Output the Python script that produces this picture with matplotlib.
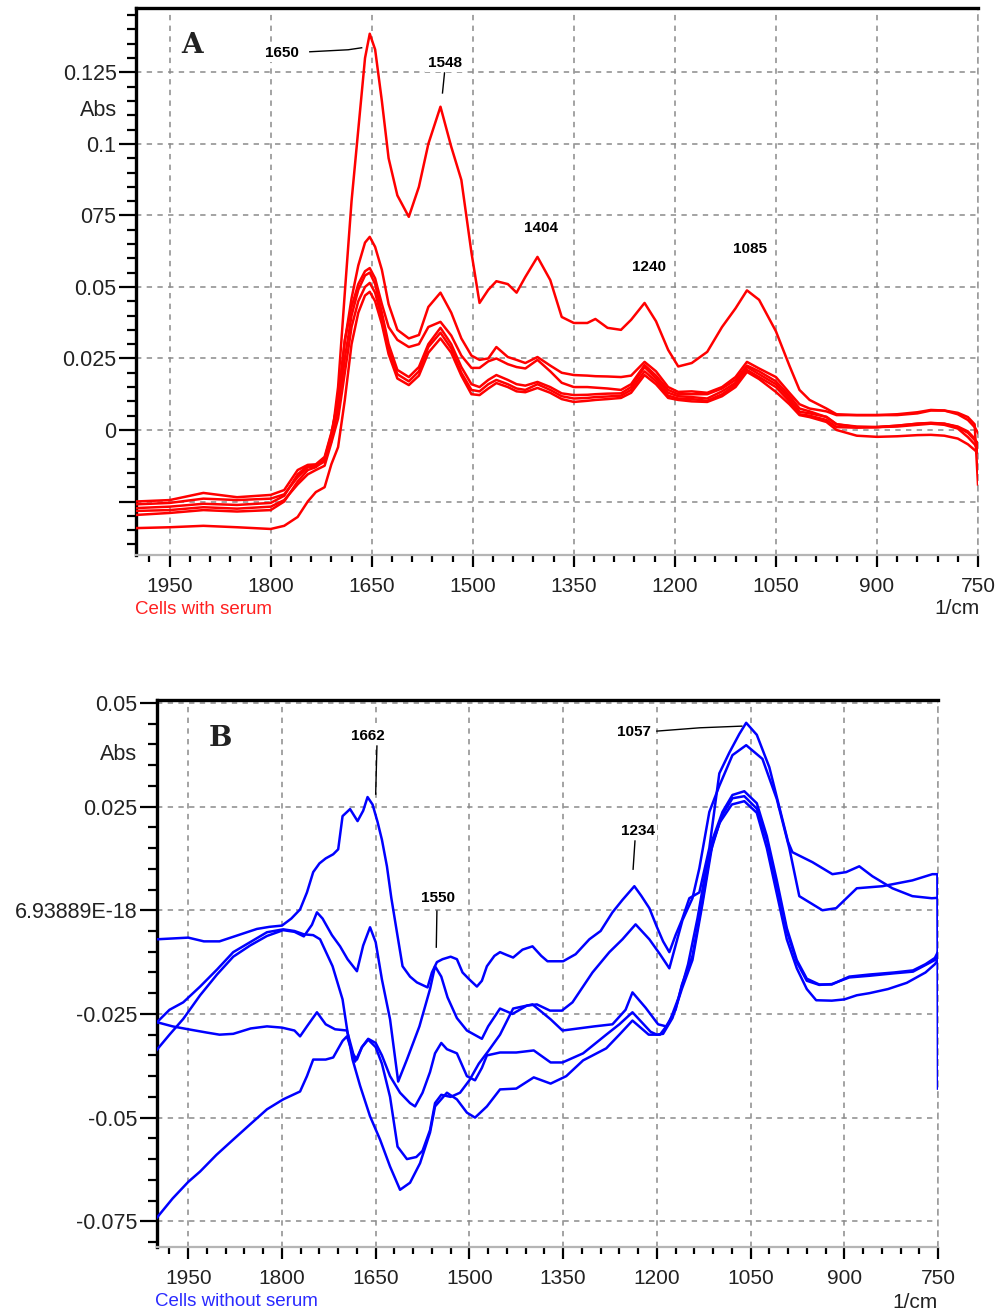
import matplotlib
matplotlib.use('Agg')
import matplotlib.pyplot as plt
from matplotlib.ticker import MultipleLocator, FixedLocator

plt.rcParams['font.family'] = ['Liberation Sans', 'DejaVu Sans']

# ---------------- DATA ----------------
# Panel A (cells with serum) - common wavenumber grid
wnA = [2000, 1950, 1900, 1850, 1800, 1780, 1760, 1745, 1733, 1720, 1710, 1700, 1690, 1680, 1670,
       1660, 1653, 1645, 1635, 1625, 1612, 1595, 1580, 1566, 1548, 1532, 1517, 1502, 1490, 1477,
       1465, 1448, 1435, 1422, 1404, 1385, 1368, 1350, 1330, 1318, 1300, 1280, 1265, 1245, 1228,
       1210, 1195, 1175, 1152, 1130, 1110, 1093, 1075, 1050, 1030, 1015, 1000, 975, 960, 930,
       900, 870, 840, 820, 800, 780, 765, 755, 750]

A1 = [-0.0297, -0.0290, -0.0280, -0.0285, -0.0280, -0.0250, -0.0180, -0.0140, -0.0130, -0.0100,
      -0.0040, 0.0150, 0.0480, 0.0800, 0.1050, 0.1300, 0.1385, 0.1330, 0.1150, 0.0950,
      0.0820, 0.0745, 0.0850, 0.1000, 0.1130, 0.0990, 0.0874, 0.0620, 0.0444, 0.0490,
      0.0520, 0.0510, 0.0480, 0.0535, 0.0605, 0.0524, 0.0395, 0.0374, 0.0374, 0.0388,
      0.0357, 0.0350, 0.0385, 0.0444, 0.0380, 0.0280, 0.0222, 0.0234, 0.0273, 0.0360,
      0.0425, 0.0488, 0.0455, 0.0345, 0.0225, 0.0140, 0.0105, 0.0075, 0.0055, 0.0052,
      0.0052, 0.0055, 0.0062, 0.0070, 0.0068, 0.0055, 0.0035, 0.0010, -0.0010]

A2 = [-0.0273, -0.0268, -0.0258, -0.0262, -0.0255, -0.0230, -0.0155, -0.0125, -0.0125, -0.0100,
      -0.0015, 0.0100, 0.0310, 0.0460, 0.0575, 0.0655, 0.0675, 0.0640, 0.0560, 0.0440,
      0.0350, 0.0320, 0.0332, 0.0430, 0.0480, 0.0410, 0.0320, 0.0260, 0.0245, 0.0250,
      0.0290, 0.0255, 0.0245, 0.0234, 0.0255, 0.0225, 0.0200, 0.0192, 0.0190, 0.0188,
      0.0187, 0.0185, 0.0190, 0.0238, 0.0205, 0.0150, 0.0133, 0.0135, 0.0130, 0.0150,
      0.0185, 0.0238, 0.0215, 0.0185, 0.0130, 0.0090, 0.0075, 0.0065, 0.0052, 0.0052,
      0.0052, 0.0052, 0.0058, 0.0068, 0.0068, 0.0060, 0.0045, 0.0020, -0.0190]

A3 = [-0.0250, -0.0245, -0.0220, -0.0235, -0.0227, -0.0210, -0.0140, -0.0122, -0.0120, -0.0094,
      -0.0010, 0.0105, 0.0315, 0.0430, 0.0510, 0.0555, 0.0566, 0.0530, 0.0440, 0.0360,
      0.0315, 0.0290, 0.0300, 0.0360, 0.0378, 0.0330, 0.0260, 0.0217, 0.0217, 0.0240,
      0.0250, 0.0230, 0.0220, 0.0215, 0.0245, 0.0205, 0.0165, 0.0150, 0.0150, 0.0148,
      0.0145, 0.0140, 0.0160, 0.0227, 0.0190, 0.0140, 0.0125, 0.0125, 0.0125, 0.0145,
      0.0175, 0.0225, 0.0205, 0.0170, 0.0120, 0.0075, 0.0065, 0.0045, 0.0020, 0.0012,
      0.0010, 0.0015, 0.0022, 0.0025, 0.0022, 0.0012, -0.0005, -0.0030, -0.0060]

A4 = [-0.0260, -0.0255, -0.0240, -0.0245, -0.0240, -0.0225, -0.0165, -0.0130, -0.0128, -0.0110,
      -0.0030, 0.0070, 0.0250, 0.0400, 0.0490, 0.0540, 0.0550, 0.0510, 0.0410, 0.0300,
      0.0210, 0.0185, 0.0220, 0.0300, 0.0357, 0.0300, 0.0220, 0.0160, 0.0150, 0.0175,
      0.0192, 0.0175, 0.0160, 0.0155, 0.0168, 0.0150, 0.0128, 0.0122, 0.0123, 0.0125,
      0.0127, 0.0128, 0.0150, 0.0220, 0.0180, 0.0130, 0.0118, 0.0115, 0.0110, 0.0135,
      0.0165, 0.0220, 0.0195, 0.0160, 0.0110, 0.0064, 0.0058, 0.0046, 0.0020, 0.0010,
      0.0010, 0.0015, 0.0022, 0.0024, 0.0022, 0.0010, -0.0010, -0.0035, -0.0045]

A5 = [-0.0283, -0.0280, -0.0270, -0.0275, -0.0268, -0.0245, -0.0190, -0.0155, -0.0140, -0.0125,
      -0.0045, 0.0040, 0.0200, 0.0360, 0.0450, 0.0500, 0.0514, 0.0480, 0.0390, 0.0280,
      0.0195, 0.0170, 0.0205, 0.0290, 0.0340, 0.0285, 0.0200, 0.0140, 0.0135, 0.0160,
      0.0175, 0.0160, 0.0145, 0.0140, 0.0160, 0.0140, 0.0118, 0.0110, 0.0112, 0.0115,
      0.0117, 0.0120, 0.0140, 0.0205, 0.0170, 0.0120, 0.0110, 0.0108, 0.0102, 0.0125,
      0.0158, 0.0210, 0.0185, 0.0150, 0.0100, 0.0055, 0.0050, 0.0035, 0.0010, 0.0008,
      0.0010, 0.0012, 0.0018, 0.0022, 0.0018, 0.0005, -0.0025, -0.0050, -0.0070]

A6 = [-0.0343, -0.0340, -0.0335, -0.0340, -0.0346, -0.0335, -0.0304, -0.0250, -0.0217, -0.0200,
      -0.0120, -0.0060, 0.0105, 0.0300, 0.0410, 0.0470, 0.0483, 0.0450, 0.0370, 0.0265,
      0.0180, 0.0157, 0.0190, 0.0270, 0.0320, 0.0270, 0.0190, 0.0125, 0.0122, 0.0145,
      0.0164, 0.0150, 0.0135, 0.0132, 0.0147, 0.0130, 0.0108, 0.0098, 0.0102, 0.0105,
      0.0108, 0.0112, 0.0130, 0.0192, 0.0160, 0.0112, 0.0105, 0.0100, 0.0098, 0.0118,
      0.0150, 0.0203, 0.0178, 0.0133, 0.0090, 0.0052, 0.0045, 0.0028, 0.0000, -0.0020,
      -0.0024, -0.0022, -0.0018, -0.0017, -0.0020, -0.0030, -0.0050, -0.0070, -0.0080]

seriesA = [A1, A2, A3, A4, A5, A6]

# Panel B (cells without serum) - one wavenumber list per spectrum
B1_wn = [2000, 1975, 1950, 1925, 1900, 1880, 1860, 1840, 1820, 1800, 1785, 1771, 1760, 1750, 1740,
         1730, 1718, 1710, 1703, 1691, 1679, 1670, 1663, 1655, 1647, 1640, 1632, 1625, 1616, 1607,
         1595, 1584, 1567, 1560, 1552, 1543, 1530, 1520, 1511, 1500, 1488, 1480, 1472, 1460, 1451,
         1440, 1430, 1415, 1399, 1385, 1375, 1350, 1330, 1308, 1290, 1271, 1255, 1236, 1225, 1212,
         1200, 1190, 1180, 1170, 1160, 1148, 1132, 1116, 1100, 1084, 1068, 1057, 1040, 1020, 1004,
         990, 983, 951, 919, 897, 876, 855, 823, 791, 760, 750]
B1_abs = [-0.0070, -0.0068, -0.0066, -0.0075, -0.0075, -0.0065, -0.0055, -0.0045, -0.0040, -0.0037,
          -0.0020, 0.0002, 0.0043, 0.0092, 0.0113, 0.0125, 0.0135, 0.0147, 0.0227, 0.0244,
          0.0215, 0.0240, 0.0273, 0.0255, 0.0213, 0.0170, 0.0106, 0.0030, -0.0053, -0.0135,
          -0.0160, -0.0174, -0.0186, -0.0150, -0.0125, -0.0118, -0.0112, -0.0118, -0.0150, -0.0167,
          -0.0184, -0.0170, -0.0135, -0.0110, -0.0101, -0.0108, -0.0114, -0.0095, -0.0087, -0.0110,
          -0.0123, -0.0123, -0.0106, -0.0070, -0.0050, -0.0005, 0.0025, 0.0058, 0.0035, 0.0005,
          -0.0040, -0.0075, -0.0101, -0.0060, -0.0024, 0.0029, 0.0043, 0.0150, 0.0330, 0.0380,
          0.0425, 0.0452, 0.0423, 0.0345, 0.0249, 0.0165, 0.0140, 0.0116, 0.0087, 0.0092,
          0.0106, 0.0082, 0.0053, 0.0034, 0.0029, 0.0030]

B2_wn = [2000, 1980, 1958, 1931, 1904, 1878, 1851, 1824, 1798, 1780, 1765, 1752, 1744, 1735, 1720,
         1707, 1695, 1680, 1670, 1659, 1650, 1640, 1627, 1614, 1600, 1580, 1563, 1555, 1545, 1535,
         1520, 1504, 1480, 1470, 1451, 1431, 1408, 1392, 1371, 1352, 1335, 1303, 1276, 1255, 1234,
         1212, 1195, 1180, 1159, 1143, 1132, 1116, 1100, 1079, 1057, 1031, 1008, 988, 972, 935,
         913, 880, 839, 791, 759, 751, 750]
B2_abs = [-0.0336, -0.0300, -0.0262, -0.0205, -0.0155, -0.0112, -0.0085, -0.0062, -0.0048, -0.0052,
          -0.0063, -0.0035, -0.0005, -0.0020, -0.0060, -0.0087, -0.0118, -0.0147, -0.0085, -0.0041,
          -0.0077, -0.0167, -0.0263, -0.0413, -0.0360, -0.0280, -0.0190, -0.0135, -0.0160, -0.0210,
          -0.0260, -0.0290, -0.0310, -0.0280, -0.0237, -0.0250, -0.0230, -0.0227, -0.0242, -0.0242,
          -0.0222, -0.0150, -0.0101, -0.0070, -0.0034, -0.0070, -0.0106, -0.0140, -0.0024, 0.0029,
          0.0101, 0.0237, 0.0300, 0.0374, 0.0398, 0.0365, 0.0268, 0.0150, 0.0034, 0.0000,
          0.0005, 0.0053, 0.0058, 0.0072, 0.0087, 0.0087, -0.0430]

B3_wn = [2000, 1975, 1950, 1920, 1900, 1878, 1850, 1824, 1800, 1780, 1771, 1760, 1744, 1730, 1715,
         1696, 1687, 1683, 1672, 1662, 1650, 1640, 1627, 1611, 1595, 1587, 1575, 1563, 1555, 1545,
         1536, 1520, 1504, 1491, 1480, 1472, 1451, 1425, 1397, 1370, 1351, 1318, 1281, 1260, 1239,
         1210, 1200, 1190, 1175, 1160, 1143, 1127, 1111, 1095, 1079, 1060, 1040, 1024, 1008, 992,
         976, 960, 940, 920, 892, 860, 820, 790, 770, 755, 750]
B3_abs = [-0.0270, -0.0280, -0.0287, -0.0295, -0.0300, -0.0298, -0.0285, -0.0280, -0.0283, -0.0290,
          -0.0304, -0.0280, -0.0246, -0.0275, -0.0287, -0.0290, -0.0340, -0.0365, -0.0330, -0.0310,
          -0.0320, -0.0350, -0.0400, -0.0440, -0.0465, -0.0473, -0.0440, -0.0390, -0.0345, -0.0320,
          -0.0335, -0.0345, -0.0400, -0.0410, -0.0380, -0.0350, -0.0343, -0.0343, -0.0338, -0.0367,
          -0.0367, -0.0345, -0.0300, -0.0275, -0.0246, -0.0293, -0.0300, -0.0298, -0.0260, -0.0190,
          -0.0120, 0.0015, 0.0160, 0.0230, 0.0270, 0.0275, 0.0245, 0.0170, 0.0060, -0.0050,
          -0.0125, -0.0170, -0.0180, -0.0178, -0.0162, -0.0158, -0.0152, -0.0148, -0.0132, -0.0120,
          -0.0110]

B4_wn = [2000, 1975, 1950, 1931, 1905, 1878, 1850, 1824, 1798, 1771, 1760, 1750, 1730, 1718, 1703,
         1696, 1687, 1680, 1672, 1662, 1650, 1640, 1627, 1615, 1600, 1585, 1575, 1563, 1555, 1545,
         1530, 1515, 1500, 1485, 1470, 1451, 1430, 1399, 1370, 1351, 1300, 1271, 1250, 1239, 1218,
         1198, 1185, 1170, 1160, 1143, 1127, 1111, 1095, 1079, 1060, 1040, 1024, 1008, 992, 976,
         960, 940, 920, 892, 860, 820, 790, 770, 755, 750]
B4_abs = [-0.0741, -0.0695, -0.0655, -0.0630, -0.0590, -0.0553, -0.0515, -0.0480, -0.0456, -0.0437,
          -0.0400, -0.0360, -0.0360, -0.0355, -0.0315, -0.0304, -0.0345, -0.0360, -0.0330, -0.0312,
          -0.0330, -0.0370, -0.0450, -0.0570, -0.0600, -0.0595, -0.0580, -0.0530, -0.0465, -0.0445,
          -0.0450, -0.0440, -0.0410, -0.0370, -0.0340, -0.0300, -0.0237, -0.0227, -0.0263, -0.0290,
          -0.0280, -0.0275, -0.0240, -0.0198, -0.0235, -0.0275, -0.0280, -0.0240, -0.0180, -0.0110,
          0.0024, 0.0170, 0.0237, 0.0278, 0.0287, 0.0258, 0.0179, 0.0072, -0.0043, -0.0120,
          -0.0165, -0.0179, -0.0179, -0.0160, -0.0155, -0.0150, -0.0145, -0.0130, -0.0115, -0.0100]

B5_wn = [2000, 1980, 1958, 1931, 1904, 1878, 1851, 1824, 1798, 1780, 1765, 1750, 1739, 1719, 1703,
         1695, 1687, 1675, 1659, 1643, 1627, 1611, 1595, 1579, 1563, 1555, 1536, 1520, 1504, 1491,
         1472, 1451, 1425, 1397, 1370, 1345, 1318, 1281, 1260, 1239, 1213, 1195, 1180, 1165, 1150,
         1135, 1120, 1100, 1080, 1060, 1040, 1024, 1008, 992, 976, 960, 945, 920, 900, 880,
         860, 830, 800, 770, 755, 750]
B5_abs = [-0.0270, -0.0240, -0.0222, -0.0184, -0.0143, -0.0101, -0.0077, -0.0053, -0.0046, -0.0050,
          -0.0058, -0.0060, -0.0070, -0.0135, -0.0215, -0.0295, -0.0360, -0.0423, -0.0497, -0.0553,
          -0.0618, -0.0674, -0.0657, -0.0610, -0.0536, -0.0473, -0.0440, -0.0456, -0.0488, -0.0500,
          -0.0473, -0.0432, -0.0430, -0.0403, -0.0418, -0.0400, -0.0362, -0.0333, -0.0300, -0.0266,
          -0.0300, -0.0300, -0.0270, -0.0210, -0.0130, -0.0020, 0.0110, 0.0210, 0.0255, 0.0263,
          0.0235, 0.0150, 0.0040, -0.0070, -0.0140, -0.0190, -0.0217, -0.0218, -0.0215, -0.0205,
          -0.0200, -0.0190, -0.0175, -0.0150, -0.0130, -0.0120]

seriesB = [(B1_wn, B1_abs), (B2_wn, B2_abs), (B3_wn, B3_abs), (B4_wn, B4_abs), (B5_wn, B5_abs)]

# axis tick labels
x_major = [1950, 1800, 1650, 1500, 1350, 1200, 1050, 900, 750]
x_major_labels = ['1950', '1800', '1650', '1500', '1350', '1200', '1050', '900', '750']
yA_major = [0.125, 0.1, 0.075, 0.05, 0.025, 0.0, -0.025]
yA_labels = ['0.125', '0.1', '075', '0.05', '0.025', '0', '']
yB_major = [0.05, 0.025, 0.0, -0.025, -0.05, -0.075]
yB_labels = ['0.05', '0.025', '6.93889E-18', '-0.025', '-0.05', '-0.075']

# peak annotations: (label, text wn, text abs, leader wn list, leader abs list)
annA = [('1650', 1783, 0.1318, [1742, 1685, 1665], [0.1322, 0.1329, 0.1336]),
        ('1548', 1542, 0.1283, [1542, 1545], [0.1248, 0.1178]),
        ('1404', 1399, 0.0706, [], []),
        ('1240', 1239, 0.0570, [], []),
        ('1085', 1089, 0.0633, [], [])]
annB = [('1662', 1662, 0.0420, [1648, 1650], [0.0396, 0.0280]),
        ('1550', 1550, 0.0029, [1552, 1553], [-0.0002, -0.0089]),
        ('1234', 1230, 0.0191, [1235, 1238], [0.0167, 0.0099]),
        ('1057', 1237, 0.0430, [1200, 1131, 1064], [0.0432, 0.0440, 0.0444])]

# ---------------- FIGURE ----------------
W, H = 1000, 1312
fig = plt.figure(figsize=(W / 100, H / 100), dpi=100)


def px_axes(l, t, r, b):
    return fig.add_axes([l / W, 1 - b / H, (r - l) / W, (b - t) / H])


def ftext(x, y, s, **kw):
    fig.text(x / W, 1 - y / H, s, **kw)


def style(ax, ylim, yt, yl):
    ax.set_xlim(2000, 750)
    ax.set_ylim(*ylim)
    ax.set_xticks(x_major)
    ax.set_xticklabels(x_major_labels)
    ax.xaxis.set_minor_locator(MultipleLocator(30))
    ax.set_yticks(yt)
    ax.set_yticklabels(yl)
    ax.yaxis.set_minor_locator(MultipleLocator(0.005))
    ax.set_axisbelow(True)
    ax.grid(True, which='major', color='#8a8a8a', ls=(0, (3.5, 3.5)), lw=1.1)
    ax.tick_params(axis='y', which='major', length=12, width=1.6, pad=2, labelsize=15.5,
                   colors='black', labelcolor='#222222')
    ax.tick_params(axis='y', which='minor', length=6.5, width=1.6)
    ax.tick_params(axis='x', which='major', length=8.5, width=1.6, pad=7, labelsize=15,
                   labelcolor='#222222')
    ax.tick_params(axis='x', which='minor', length=5, width=1.6)
    for s in ('top', 'left'):
        ax.spines[s].set_color('black')
        ax.spines[s].set_linewidth(2.4)
    ax.spines['bottom'].set_color('#b5b5b5')
    ax.spines['bottom'].set_linewidth(1.6)
    ax.spines['right'].set_color('#9a9a9a')
    ax.spines['right'].set_linewidth(1.1)
    ax.spines['right'].set_linestyle((0, (3.5, 3.5)))


def annotate(ax, items):
    for lab, tx, ty, lx, ly in items:
        ax.text(tx, ty, lab, ha='center', va='center', fontsize=11, fontweight='bold',
                color='black', zorder=5,
                bbox=dict(facecolor='white', edgecolor='none', pad=1.5))
        if lx:
            ax.plot(lx, ly, color='black', lw=1.0, zorder=5)


# Panel A
axA = px_axes(136, 8, 978, 555)
style(axA, (-0.0437, 0.1475), yA_major, yA_labels)
for ys in seriesA:
    axA.plot(wnA, ys, color='#ff0000', lw=1.8, zorder=3)
annotate(axA, annA)
axA.text(1917, 0.1343, 'A', ha='center', va='center', fontsize=20, fontweight='bold',
         family='DejaVu Serif', color='#222222')

# Panel B
axB = px_axes(157, 700, 938, 1247)
style(axB, (-0.0812, 0.0507), yB_major, yB_labels)
for wn, ys in seriesB:
    axB.plot(wn, ys, color='#0000ff', lw=1.8, zorder=3)
annotate(axB, annB)
axB.text(1898, 0.0413, 'B', ha='center', va='center', fontsize=20, fontweight='bold',
         family='DejaVu Serif', color='#222222')

# Axis captions
ftext(117, 110, 'Abs', ha='right', va='center', fontsize=15.5, color='#222222')
ftext(137, 754, 'Abs', ha='right', va='center', fontsize=15.5, color='#222222')
ftext(957, 608, '1/cm', ha='center', va='center', fontsize=15, color='#222222')
ftext(915, 1302, '1/cm', ha='center', va='center', fontsize=15, color='#222222')
ftext(135, 610, 'Cells with serum', ha='left', va='center', fontsize=13.5, color='#ff2020')
ftext(155, 1302, 'Cells without serum', ha='left', va='center', fontsize=13.5, color='#2a2aff')

fig.savefig('out.png', dpi=100)
